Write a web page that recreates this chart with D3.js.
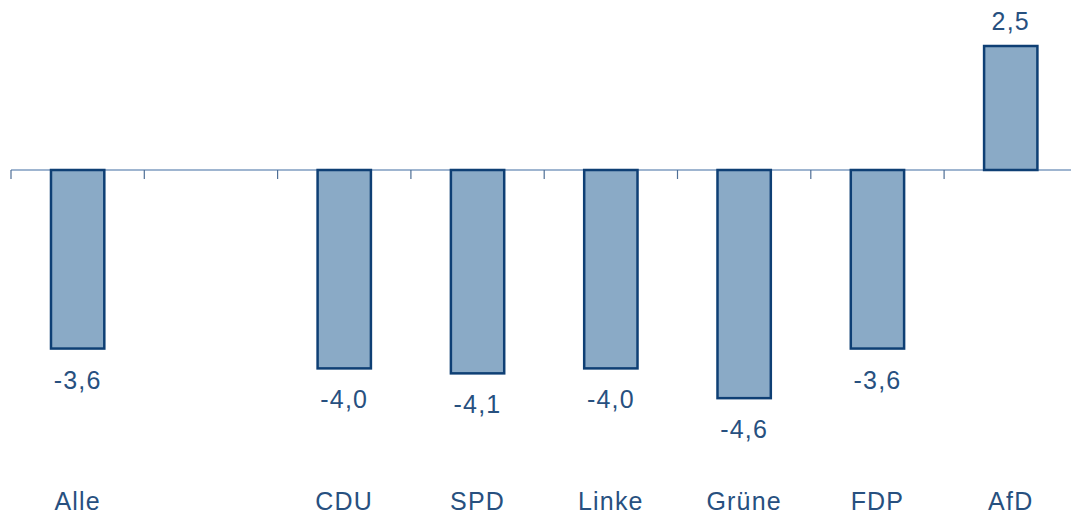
<!DOCTYPE html>
<html>
<head>
<meta charset="utf-8">
<script src="https://cdn.jsdelivr.net/npm/d3@7"></script>
<style>
  body { margin: 0; background: #fff; }
  text { font-family: "Liberation Sans", Arial, sans-serif; fill: #27507f; letter-spacing: 1.2px; }
</style>
</head>
<body>
<script>
var categories = ['Alle', ' ', 'CDU', 'SPD', 'Linke', 'Grüne', 'FDP', 'AfD'];
var values = [-3.6, null, -4.0, -4.1, -4.0, -4.6, -3.6, 2.5];
var valueLabels = ['-3,6', '', '-4,0', '-4,1', '-4,0', '-4,6', '-3,6', '2,5'];

var width = 1071, height = 519;

var svg = d3.select('body').append('svg')
  .attr('width', width).attr('height', height);

var x = d3.scaleBand()
  .domain(categories)
  .range([11, 11 + 133.3 * categories.length])
  .paddingInner(0.6)
  .paddingOuter(0.3);

var y = d3.scaleLinear().domain([0, 2.5]).range([170, 46]);

var step = x.step();
var data = categories.map(function (c, i) {
  return { cat: c, v: values[i], label: valueLabels[i] };
});

// axis line and ticks between categories
svg.append('line')
  .attr('x1', 11).attr('x2', width)
  .attr('y1', y(0)).attr('y2', y(0))
  .attr('stroke', '#7f9dc0').attr('stroke-width', 1.5);

svg.selectAll('.tick')
  .data(categories)
  .enter().append('line')
  .attr('x1', function (d) { return x(d) - step * 0.3; })
  .attr('x2', function (d) { return x(d) - step * 0.3; })
  .attr('y1', y(0)).attr('y2', y(0) + 9)
  .attr('stroke', '#4f6f96').attr('stroke-width', 1.2);

var bars = data.filter(function (d) { return d.v !== null; });

svg.selectAll('rect')
  .data(bars)
  .enter().append('rect')
  .attr('x', function (d) { return x(d.cat); })
  .attr('width', x.bandwidth())
  .attr('y', function (d) { return Math.min(y(d.v), y(0)); })
  .attr('height', function (d) { return Math.abs(y(d.v) - y(0)); })
  .attr('fill', '#8aaac6')
  .attr('stroke', '#0e3f74')
  .attr('stroke-width', 2.5);

svg.selectAll('.val')
  .data(bars)
  .enter().append('text')
  .attr('class', 'val')
  .attr('x', function (d) { return x(d.cat) + x.bandwidth() / 2; })
  .attr('y', function (d) { return d.v < 0 ? y(d.v) + 40 : y(d.v) - 16; })
  .attr('text-anchor', 'middle')
  .attr('font-size', 25)
  .text(function (d) { return d.label; });

svg.selectAll('.cat')
  .data(data)
  .enter().append('text')
  .attr('class', 'cat')
  .attr('x', function (d) { return x(d.cat) + x.bandwidth() / 2; })
  .attr('y', 510)
  .attr('text-anchor', 'middle')
  .attr('font-size', 25)
  .text(function (d) { return d.cat; });
</script>
</body>
</html>
